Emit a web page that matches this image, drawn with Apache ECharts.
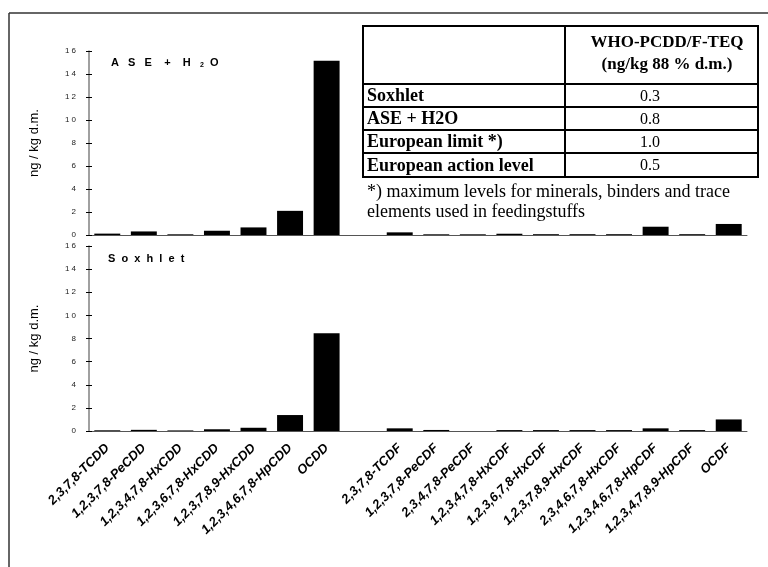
<!DOCTYPE html>
<html>
<head>
<meta charset="utf-8">
<script src="https://cdn.jsdelivr.net/npm/echarts@6/dist/echarts.min.js"></script>
<style>
  html, body { margin: 0; padding: 0; background: #fff; }
  #chart { width: 768px; height: 567px; }
</style>
</head>
<body>
<div id="chart"></div>
<script>
// congeners, with one empty slot between the PCDD and PCDF groups
const congeners = [
  '2,3,7,8-TCDD', '1,2,3,7,8-PeCDD', '1,2,3,4,7,8-HxCDD', '1,2,3,6,7,8-HxCDD',
  '1,2,3,7,8,9-HxCDD', '1,2,3,4,6,7,8-HpCDD', 'OCDD', '',
  '2,3,7,8-TCDF', '1,2,3,7,8-PeCDF', '2,3,4,7,8-PeCDF', '1,2,3,4,7,8-HxCDF',
  '1,2,3,6,7,8-HxCDF', '1,2,3,7,8,9-HxCDF', '2,3,4,6,7,8-HxCDF',
  '1,2,3,4,6,7,8-HpCDF', '1,2,3,4,7,8,9-HpCDF', 'OCDF'
];
const aseH2O  = [0.12, 0.31, 0.06, 0.37, 0.66, 2.1, 15.15, null, 0.23, 0.06, 0.06, 0.11, 0.07, 0.07, 0.07, 0.72, 0.07, 0.96];
const soxhlet = [0.06, 0.1, 0.05, 0.15, 0.28, 1.38, 8.45, null, 0.23, 0.09, 0, 0.08, 0.08, 0.08, 0.08, 0.23, 0.08, 1.0];
const yMin = 0, yMax = 16, yStep = 2;

const tableHeader = ['WHO-PCDD/F-TEQ', '(ng/kg 88 % d.m.)'];
const tableRows = ['Soxhlet', 'ASE + H2O', 'European limit *)', 'European action level'];
const tableValues = ['0.3', '0.8', '1.0', '0.5'];
const footnote = ['*) maximum levels for minerals, binders and trace', 'elements used in feedingstuffs'];

const chart = echarts.init(document.getElementById('chart'));

const grids = [
  { left: 89, top: 51, width: 658, height: 184 },
  { left: 89, top: 246, width: 658, height: 185 }
];

const xAxes = [];
const yAxes = [];
grids.forEach((g, i) => {
  // main axes
  xAxes.push({
    type: 'category', gridIndex: i, data: congeners, position: 'bottom',
    axisLine: { lineStyle: { color: '#555', width: 1 } },
    axisTick: { length: 3, lineStyle: { color: '#000' } },
    axisLabel: i === 1 ? {
      interval: 0, rotate: 45, margin: 15,
      fontFamily: 'Liberation Sans, Arial', fontSize: 13,
      fontWeight: 'bold', fontStyle: 'italic', color: '#000'
    } : { show: false }
  });
  yAxes.push({
    type: 'value', gridIndex: i, position: 'left', min: yMin, max: yMax, interval: yStep,
    splitLine: { show: false },
    axisLine: { show: true, lineStyle: { color: '#808080', width: 1.5 } },
    axisTick: { show: true, length: 3, lineStyle: { color: '#000' } },
    axisLabel: {
      margin: 13, fontFamily: 'Liberation Sans, Arial', fontSize: 8, color: '#222',
      formatter: (v) => String(v).split('').join(' ')
    },
    name: 'ng / kg d.m.', nameLocation: 'middle', nameGap: 48,
    nameTextStyle: { fontFamily: 'Liberation Sans Narrow, Arial Narrow, Liberation Sans', fontSize: 13, color: '#000' }
  });
});
// inside half of the crossing ticks
grids.forEach((g, i) => {
  xAxes.push({
    type: 'category', gridIndex: i, data: congeners, position: 'bottom',
    axisLine: { show: false }, axisLabel: { show: false },
    axisTick: { inside: true, length: 3, lineStyle: { color: '#000' } }
  });
  yAxes.push({
    type: 'value', gridIndex: i, position: 'left', min: yMin, max: yMax, interval: yStep,
    splitLine: { show: false }, axisLine: { show: false }, axisLabel: { show: false },
    axisTick: { show: true, inside: true, length: 3, lineStyle: { color: '#000' } }
  });
});

// table built from the arrays above
const tL = 363, tR = 758, tC = 565, tTop = 26;
const rowLines = [84, 107, 130, 153, 177];
const serif = 'Liberation Serif, Times New Roman, serif';
const graphic = [
  { type: 'line', shape: { x1: 9, y1: 13, x2: 768, y2: 13 }, style: { stroke: '#333', lineWidth: 1.5 } },
  { type: 'line', shape: { x1: 9, y1: 13, x2: 9, y2: 567 }, style: { stroke: '#333', lineWidth: 1.5 } },
  { type: 'rect', shape: { x: tL, y: tTop, width: tR - tL, height: rowLines[4] - tTop },
    style: { fill: '#fff', stroke: '#000', lineWidth: 2 }, z: 10 },
  { type: 'line', shape: { x1: tC, y1: tTop, x2: tC, y2: rowLines[4] }, style: { stroke: '#000', lineWidth: 2 }, z: 11 }
];
rowLines.slice(0, 4).forEach((y) => {
  graphic.push({ type: 'line', shape: { x1: tL, y1: y, x2: tR, y2: y }, style: { stroke: '#000', lineWidth: 2 }, z: 11 });
});
tableHeader.forEach((t, k) => {
  graphic.push({ type: 'text', x: 667, y: 43 + k * 22, z: 12,
    style: { text: t, font: 'bold 17px ' + serif, fill: '#000', align: 'center', verticalAlign: 'middle' } });
});
tableRows.forEach((t, k) => {
  const cy = (rowLines[k] + rowLines[k + 1]) / 2;
  graphic.push({ type: 'text', x: tL + 4, y: cy + 1, z: 12,
    style: { text: t, font: 'bold 18px ' + serif, fill: '#000', align: 'left', verticalAlign: 'middle' } });
  graphic.push({ type: 'text', x: 650, y: cy + 1, z: 12,
    style: { text: tableValues[k], font: '16px ' + serif, fill: '#000', align: 'center', verticalAlign: 'middle' } });
});
footnote.forEach((t, k) => {
  graphic.push({ type: 'text', x: tL + 4, y: 192 + k * 20, z: 12,
    style: { text: t, font: '18px ' + serif, fill: '#000', align: 'left', verticalAlign: 'middle' } });
});

const panelTitle = {
  fontFamily: 'Liberation Sans, Arial', fontSize: 11, fontWeight: 'bold', color: '#000',
  rich: { s: { fontFamily: 'Liberation Sans, Arial', fontSize: 7, fontWeight: 'bold', verticalAlign: 'bottom', padding: [6, 0, 0, 0] } }
};

chart.setOption({
  animation: false,
  backgroundColor: '#fff',
  title: [
    { text: 'A   S   E    +    H   {s|2}  O', left: 111, top: 56, textStyle: panelTitle, padding: 0 },
    { text: 'S  o  x  h  l  e  t', left: 108, top: 253, textStyle: panelTitle, padding: 0 }
  ],
  grid: grids,
  xAxis: xAxes,
  yAxis: yAxes,
  series: [
    { type: 'bar', xAxisIndex: 0, yAxisIndex: 0, data: aseH2O, barCategoryGap: '29%',
      itemStyle: { color: '#000' } },
    { type: 'bar', xAxisIndex: 1, yAxisIndex: 1, data: soxhlet, barCategoryGap: '29%',
      itemStyle: { color: '#000' } }
  ],
  graphic: graphic
});
</script>
</body>
</html>
